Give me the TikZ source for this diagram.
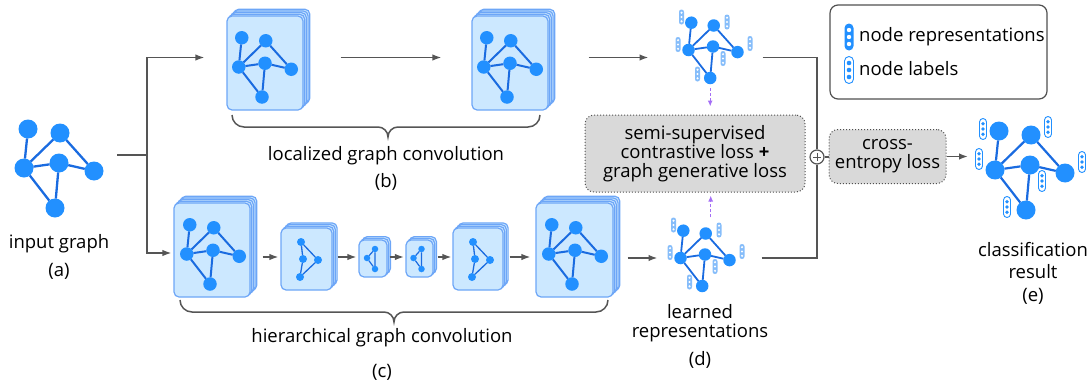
\documentclass[tikz,border=0pt]{standalone}
\usepackage{fontspec}
\setmainfont{Open Sans}
\usetikzlibrary{positioning}
\usetikzlibrary{arrows.meta}
\definecolor{nodeblue}{HTML}{2290FF}
\definecolor{edgeblue}{HTML}{1A6BE0}
\definecolor{cardfill}{HTML}{CCE8FF}
\definecolor{carddraw}{HTML}{6DA6F7}
\definecolor{repblue}{HTML}{86BDFA}
\definecolor{lossfill}{HTML}{D9D9D9}
\definecolor{lossdraw}{HTML}{505050}
\definecolor{linegray}{HTML}{555555}
\definecolor{purp}{HTML}{A46EF5}
\tikzset{
    gnode/.style = {circle, inner sep=0pt, outer sep=0pt, fill=nodeblue},
    gedge/.style = {draw=edgeblue},
    card/.style = {rectangle, rounded corners=5pt, draw=carddraw, line width=1.2pt, fill=cardfill, inner sep=0pt},
    conn/.style = {draw=linegray, line width=1.5pt},
    arr/.style = {conn, -{Latex[length=9pt,width=6.5pt]}},
    purpa/.style = {draw=purp, line width=1.4pt, dash pattern=on 3pt off 2pt, -{Latex[length=6pt,width=5pt]}},
    brace/.style = {draw=linegray, line width=1.5pt},
    lossbox/.style = {rectangle, rounded corners=9pt, draw=lossdraw, dotted, line width=1pt, fill=lossfill, align=center, inner sep=0pt, font=\fontsize{18.5}{19}\selectfont},
    legbox/.style = {rectangle, rounded corners=8pt, draw=lossdraw, line width=1.2pt, fill=white, inner sep=0pt},
    txt/.style = {inner sep=0pt, font=\fontsize{18.5}{20}\selectfont},
    plusc/.style = {circle, draw=linegray, line width=1.2pt, fill=white, minimum size=14pt, inner sep=0pt,
        path picture={\draw[linegray, line width=1pt] ([xshift=-4pt]path picture bounding box.center) -- ([xshift=4pt]path picture bounding box.center)
            ([yshift=-4pt]path picture bounding box.center) -- ([yshift=4pt]path picture bounding box.center);}},
    reprs/.style = {rectangle, rounded corners=2.4pt, minimum width=5pt, minimum height=15pt, inner sep=0pt, fill=repblue,
        path picture={\foreach \d in {-1,0,1} \fill[white] ([yshift=\d*4.3pt]path picture bounding box.center) circle (1.2pt);}},
    reprl/.style = {rectangle, rounded corners=4.5pt, minimum width=9pt, minimum height=27pt, inner sep=0pt, fill=nodeblue,
        path picture={\foreach \d in {-1,0,1} \fill[white] ([yshift=\d*7pt]path picture bounding box.center) circle (2.2pt);}},
    labs/.style = {rectangle, rounded corners=3.5pt, minimum width=7pt, minimum height=21pt, inner sep=0pt, draw=nodeblue, line width=0.9pt, fill=white,
        path picture={\foreach \d in {-1,0,1} \fill[nodeblue] ([yshift=\d*5.3pt]path picture bounding box.center) circle (1.9pt);}},
    labl/.style = {labs, rounded corners=4.5pt, minimum width=9pt, minimum height=27pt,
        path picture={\foreach \d in {-1,0,1} \fill[nodeblue] ([yshift=\d*7pt]path picture bounding box.center) circle (2.3pt);}}
}
% stack of cards: name, x, y, width, height, layers
\newcommand{\cardstack}[6]{
  \foreach \k in {#6,...,1}
    \node[card, minimum width=#4pt, minimum height=#5pt] at (#2+1.7*\k, #3-1.7*\k) {};
  \node[card, minimum width=#4pt, minimum height=#5pt] (#1) at (#2,#3) {};
}
% six node graph: name, x, y, scale, node size, edge width
\newcommand{\sixgraph}[6]{
  \begin{scope}[shift={(#2,#3)}, scale=#4]
  \node[gnode, minimum size=#5pt] (#1a) at (-31,-39) {};
  \node[gnode, minimum size=#5pt] (#1b) at (1,-35) {};
  \node[gnode, minimum size=#5pt] (#1c) at (-35,0) {};
  \node[gnode, minimum size=#5pt] (#1d) at (0,-5) {};
  \node[gnode, minimum size=#5pt] (#1e) at (35,3) {};
  \node[gnode, minimum size=#5pt] (#1f) at (-4,40) {};
  \end{scope}
  \draw[gedge, line width=#6pt] (#1a) -- (#1c) (#1b) -- (#1c) (#1b) -- (#1e) (#1c) -- (#1d)
    (#1d) -- (#1e) (#1c) -- (#1f) (#1d) -- (#1f);
}
\newcommand{\quadgraph}[3]{
  \begin{scope}[shift={(#2,#3)}]
  \node[gnode, minimum size=8pt] (#1a) at (-5,-17) {};
  \node[gnode, minimum size=8pt] (#1b) at (-3,0) {};
  \node[gnode, minimum size=8pt] (#1c) at (12,1) {};
  \node[gnode, minimum size=8pt] (#1d) at (-6,18) {};
  \end{scope}
  \draw[gedge, line width=1.3pt] (#1a) -- (#1b) -- (#1d) -- (#1c) -- (#1a);
}
\newcommand{\trigraph}[3]{
  \begin{scope}[shift={(#2,#3)}]
  \node[gnode, minimum size=6.5pt] (#1a) at (2,-9.5) {};
  \node[gnode, minimum size=6.5pt] (#1b) at (-6,-0.5) {};
  \node[gnode, minimum size=6.5pt] (#1c) at (2,10.5) {};
  \end{scope}
  \draw[gedge, line width=1.2pt] (#1a) -- (#1b) -- (#1c) -- (#1a);
}
\newcommand{\reprpills}[3]{
  \begin{scope}[shift={(#2,#3)}]
  \node[reprs] (#1p1) at (-31.5,-33) {};
  \node[reprs] (#1p2) at (14,-28) {};
  \node[reprs] (#1p3) at (-35,-5.5) {};
  \node[reprs] (#1p4) at (10,8.5) {};
  \node[reprs] (#1p5) at (37,-6.5) {};
  \node[reprs] (#1p6) at (-15.5,24) {};
  \end{scope}
}

\begin{document}
\begin{tikzpicture}[x=1pt, y=-1pt]
\useasboundingbox (0,0) rectangle (1089,388);
\coordinate (split) at (147,155);
\coordinate (rowtop) at (0,57.5);
\coordinate (rowc) at (0,253);
\coordinate (rowc2) at (0,257);
\coordinate (rowbot) at (0,258);
%
% (a) input graph
\sixgraph{a}{59}{168}{1}{19}{2.3}
\node[txt] (la) at (59,244) {input graph};
\node[txt] (la2) at (59,271) {(a)};
%
% (b) localized graph convolution
\cardstack{b1}{265}{63}{76}{94}{4}
\sixgraph{b1g}{265}{67}{0.75}{13.5}{2}
\cardstack{b2}{510}{63}{76}{94}{4}
\sixgraph{b2g}{510}{67}{0.75}{13.5}{2}
\draw[brace] (232,115) to[out=-90,in=180] (244,127) -- (378,127) to[out=0,in=90] (388,137)
    to[out=90,in=180] (398,127) -- (528,127) to[out=0,in=-90] (540,115);
\node[txt] (lb) at (386,156) {localized graph convolution};
\node[txt] (lb2) at (386,182) {(b)};
%
% (c) hierarchical graph convolution
\cardstack{c1}{212}{250}{76}{94}{4}
\sixgraph{c1g}{213}{254}{0.75}{13.5}{2}
\cardstack{c2}{306.5}{259}{51}{62}{3}
\quadgraph{c2g}{306}{259}
\cardstack{c3}{373}{258.5}{28}{37}{2}
\trigraph{c3g}{373}{258.5}
\cardstack{c4}{419.5}{258.5}{27}{37}{2}
\trigraph{c4g}{419.5}{258.5}
\cardstack{c5}{478}{259}{50}{62}{3}
\quadgraph{c5g}{478}{259}
\cardstack{c6}{574.5}{250}{77}{94}{4}
\sixgraph{c6g}{575}{254}{0.75}{13.5}{2}
\draw[brace] (180,300) to[out=-90,in=180] (192,312) -- (384,312) to[out=0,in=90] (394,322)
    to[out=90,in=180] (404,312) -- (596,312) to[out=0,in=-90] (608,300);
\node[txt] (lc) at (382,338) {hierarchical graph convolution};
\node[txt] (lc2) at (382,372) {(c)};
%
% (d) learned representations
\sixgraph{dt}{713}{50}{0.7}{12.5}{1.8}
\reprpills{dt}{713}{50}
\sixgraph{db}{705}{258}{0.7}{12.5}{1.8}
\reprpills{db}{705}{258}
\node[txt] (ld) at (700,312) {learned};
\node[txt] (ld1) at (700,333) {representations};
\node[txt] (ld2) at (700,360) {(d)};
\node[lossbox, minimum width=220pt, minimum height=77pt] (loss) at (695,153.5)
    {semi-supervised\\contrastive loss \textbf{+}\\graph generative loss};
%
% (e) classification result
\sixgraph{e}{1030}{170}{1}{19}{2.2}
\begin{scope}[shift={(1030,170)}]
\node[labs] (ep1) at (-47,-41) {};
\node[labs] (ep2) at (18,-43) {};
\node[labs] (ep3) at (-51,-11) {};
\node[labs] (ep4) at (12,11) {};
\node[labs] (ep5) at (52,-8) {};
\node[labs] (ep6) at (-23,37) {};
\end{scope}
\node[txt] (le) at (1033,250) {classification};
\node[txt] (le1) at (1033,272) {result};
\node[txt] (le2) at (1033,296) {(e)};
%
\node[plusc] (plus) at (817,157) {};
\node[lossbox, minimum width=117pt, minimum height=54pt] (ce) at (887.5,156.5) {cross-\\entropy loss};
%
% legend
\node[legbox, minimum width=217pt, minimum height=94pt] (leg) at (938.5,52) {};
\node[reprl] (lg1) at (849,37) {};
\node[txt, anchor=west] (lt1) at (859,37) {node representations};
\node[labl] (lg2) at (849,70) {};
\node[txt, anchor=west] (lt2) at (859,69) {node labels};
%
% connectors
\draw[conn, shorten <=23pt] (ae |- split) -- (split);
\draw[arr, shorten >=22pt] (split) |- (b1.west |- rowtop);
\draw[arr, shorten >=2pt] (split) |- (c1.west |- rowc);
\draw[arr, shorten <=37pt, shorten >=30pt] (b1.east |- rowtop) -- (b2.west |- rowtop);
\draw[arr, shorten <=40pt, shorten >=40pt] (b2.east |- rowtop) -- (dtc |- rowtop);
\draw[arr, shorten <=12pt, shorten >=2pt] (c1.east |- rowc2) -- (c2.west |- rowc2);
\draw[arr, shorten <=5pt, shorten >=2pt] (c2.east |- rowc2) -- (c3.west |- rowc2);
\draw[arr, shorten <=2pt, shorten >=1.5pt] (c3.east |- rowc2) -- (c4.west |- rowc2);
\draw[arr, shorten <=4pt, shorten >=1pt] (c4.east |- rowc2) -- (c5.west |- rowc2);
\draw[arr, shorten <=6pt, shorten >=5pt] (c5.east |- rowc2) -- (c6.west |- rowc2);
\draw[arr, shorten <=14pt, shorten >=23pt] (c6.east |- rowbot) -- (dbc |- rowbot);
\draw[conn, shorten <=25pt] (dte |- rowtop) -| (plus);
\draw[conn, shorten <=32pt] (dbe |- rowbot) -| (plus);
\draw[conn] (plus) -- (plus -| ce.west);
\draw[arr, shorten >=27pt] (ce.east) -- (ce.east -| ec);
\draw[purpa, shorten <=4pt, shorten >=8pt] (dtf.south) -- (dtf.south |- loss.north);
\draw[purpa, shorten <=10pt, shorten >=3pt] ([xshift=5pt]dbb.north) -- ([xshift=5pt]dbb.north |- loss.south);

\end{tikzpicture}
\end{document}
